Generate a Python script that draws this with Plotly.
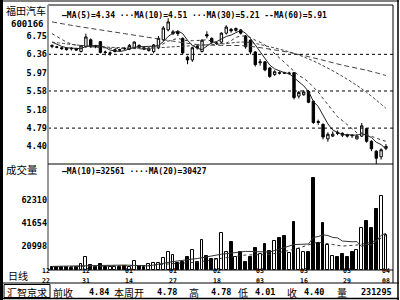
import plotly.graph_objects as go

W, H = 400, 300

# ---------------- data ----------------
opens = [6.55, 6.52, 6.50, 6.49, 6.49, 6.48, 6.42, 6.52, 6.67, 6.53,
         6.63, 6.41, 6.38, 6.42, 6.46, 6.49, 6.47, 6.50, 6.55, 6.50,
         6.44, 6.42, 6.50, 6.67, 6.88, 6.80, 6.84, 6.70, 6.30, 6.24,
         6.53, 6.42, 6.78, 6.70, 6.59, 6.62, 6.81, 6.89, 6.87, 6.88,
         6.75, 6.66, 6.41, 6.18, 6.20, 6.07, 5.93, 5.97, 5.97, 5.95,
         5.97, 5.47, 5.50, 5.57, 5.36, 4.93, 4.87, 4.56, 4.62, 4.70,
         4.68, 4.65, 4.64, 4.56, 4.62, 4.78, 4.51, 4.30, 4.18, 4.36]
closes = [6.53, 6.51, 6.48, 6.46, 6.48, 6.45, 6.54, 6.73, 6.52, 6.52,
          6.40, 6.40, 6.39, 6.46, 6.45, 6.48, 6.55, 6.62, 6.51, 6.47,
          6.49, 6.56, 6.70, 6.92, 7.05, 6.84, 6.80, 6.39, 6.24, 6.50,
          6.50, 6.66, 6.75, 6.62, 6.60, 6.81, 6.94, 6.86, 6.91, 6.81,
          6.52, 6.41, 6.14, 6.20, 6.03, 5.89, 5.99, 5.96, 5.96, 5.96,
          5.44, 5.55, 5.56, 5.34, 4.91, 4.91, 4.60, 4.66, 4.66, 4.68,
          4.64, 4.62, 4.63, 4.62, 4.84, 4.51, 4.35, 4.15, 4.33, 4.40]
highs = [6.57, 6.54, 6.52, 6.51, 6.51, 6.50, 6.56, 6.80, 6.70, 6.56,
         6.64, 6.44, 6.42, 6.48, 6.48, 6.51, 6.58, 6.64, 6.57, 6.52,
         6.51, 6.58, 6.75, 6.96, 7.13, 6.88, 6.87, 6.72, 6.33, 6.52,
         6.56, 6.68, 6.85, 6.72, 6.63, 6.83, 6.98, 6.92, 6.93, 6.90,
         6.77, 6.68, 6.43, 6.26, 6.22, 6.09, 6.02, 6.00, 5.99, 5.99,
         5.98, 5.58, 5.60, 5.60, 5.38, 4.97, 4.89, 4.70, 4.72, 4.74,
         4.70, 4.67, 4.66, 4.66, 4.90, 4.78, 4.53, 4.32, 4.36, 4.45]
lows = [6.49, 6.49, 6.46, 6.44, 6.44, 6.43, 6.40, 6.50, 6.50, 6.49,
        6.38, 6.34, 6.33, 6.40, 6.42, 6.45, 6.45, 6.48, 6.49, 6.45,
        6.42, 6.38, 6.47, 6.64, 6.85, 6.77, 6.75, 6.36, 6.15, 6.20,
        6.46, 6.40, 6.70, 6.58, 6.56, 6.60, 6.78, 6.82, 6.84, 6.78,
        6.48, 6.36, 6.10, 6.12, 6.00, 5.86, 5.90, 5.93, 5.94, 5.92,
        5.40, 5.42, 5.48, 5.32, 4.88, 4.86, 4.55, 4.50, 4.60, 4.64,
        4.60, 4.59, 4.58, 4.55, 4.60, 4.48, 4.30, 4.01, 4.12, 4.32]
volumes = [2500, 2300, 2000, 2300, 1800, 2000, 5000, 11500, 4000, 2500,
           5000, 2300, 2000, 2000, 2000, 3500, 2500, 7600, 2800, 2500,
           5000, 6000, 5500, 10400, 15700, 13000, 5800, 6700, 11200, 17500,
           6700, 26500, 12100, 9000, 9000, 32500, 15700, 24500, 11500, 15700,
           6500, 11000, 19700, 13500, 22500, 16600, 25600, 28000, 30000, 14500,
           42500, 18000, 15700, 15700, 82000, 23500, 41500, 22000, 12100, 11200,
           13900, 11200, 15700, 17500, 37000, 44000, 37000, 54000, 65600, 31400]

ma5 = [6.62, 6.57, 6.53, 6.50, 6.49, 6.48, 6.48, 6.53, 6.54, 6.55,
       6.54, 6.51, 6.45, 6.43, 6.42, 6.44, 6.47, 6.51, 6.52, 6.53,
       6.53, 6.53, 6.55, 6.63, 6.74, 6.81, 6.86, 6.80, 6.66, 6.55,
       6.49, 6.46, 6.53, 6.61, 6.63, 6.69, 6.74, 6.77, 6.82, 6.87,
       6.81, 6.70, 6.56, 6.42, 6.26, 6.13, 6.05, 6.01, 5.97, 5.95,
       5.86, 5.77, 5.69, 5.57, 5.36, 5.25, 5.06, 4.88, 4.75, 4.70,
       4.65, 4.65, 4.65, 4.64, 4.67, 4.64, 4.59, 4.49, 4.44, 4.34]
ma10 = [6.80, 6.74, 6.68, 6.62, 6.58, 6.55, 6.53, 6.53, 6.52, 6.52,
        6.51, 6.50, 6.49, 6.49, 6.49, 6.49, 6.49, 6.48, 6.48, 6.47,
        6.48, 6.50, 6.53, 6.58, 6.64, 6.67, 6.70, 6.67, 6.65, 6.65,
        6.65, 6.66, 6.67, 6.64, 6.59, 6.59, 6.60, 6.65, 6.72, 6.75,
        6.75, 6.72, 6.66, 6.62, 6.56, 6.47, 6.38, 6.29, 6.19, 6.11,
        6.00, 5.91, 5.85, 5.77, 5.66, 5.56, 5.42, 5.29, 5.16, 5.03,
        4.95, 4.86, 4.77, 4.69, 4.69, 4.65, 4.62, 4.57, 4.54, 4.51]
ma30_idx = [0, 5, 10, 15, 20, 25, 30, 35, 40, 45, 50, 55, 61, 65, 69]
ma30_val = [6.62, 6.56, 6.52, 6.50, 6.49, 6.52, 6.55, 6.58, 6.62, 6.52,
            6.38, 6.17, 5.83, 5.55, 5.21]
ma60_idx = [0, 5, 10, 15, 20, 25, 30, 35, 40, 45, 50, 55, 60, 65, 69]
ma60_val = [7.05, 6.96, 6.88, 6.80, 6.72, 6.64, 6.57, 6.55, 6.54, 6.47,
            6.38, 6.26, 6.13, 6.02, 5.91]
vma10_idx = [0, 5, 10, 15, 20, 25, 30, 35, 40, 45, 50, 53, 54, 55, 56, 57,
             58, 59, 60, 61, 62, 63, 64, 65, 66, 67, 68, 69]
vma10_val = [2800, 3000, 3840, 3980, 3220, 7100, 9850, 13700, 16300, 15720,
             22390, 22910, 28860, 29550, 31140, 30540, 28750, 28420, 25560,
             24880, 24880, 25060, 20560, 22610, 22160, 25360, 30710, 32561]
vma20_idx = [0, 10, 20, 25, 30, 35, 40, 45, 50, 54, 55, 58, 60, 63, 65, 67, 69]
vma20_val = [2500, 3200, 3600, 5300, 6500, 10000, 13000, 13500, 18000, 23500,
             24500, 22500, 21000, 22000, 23500, 26000, 30427]

price_ticks = [6.75, 6.36, 5.97, 5.58, 5.18, 4.79, 4.40]
price_grid = [6.36, 5.58, 4.79]
vol_ticks = [62310, 41654, 20998]
date_idx = [0, 7, 16, 25, 34, 43, 52, 61, 69]
date_month = ["12", "12", "01", "01", "02", "03", "03", "03", "04"]
date_day = ["22", "31", "14", "27", "18", "03", "16", "29", "08"]

legend_price = "—MA(5)=4.34 ···MA(10)=4.51 ···MA(30)=5.21 --MA(60)=5.91"
legend_vol = "—MA(10)=32561 ····MA(20)=30427"
info_labels = ["前收", "本周开", "高", "低", "收", "量"]
info_values = ["4.84", "4.78", "4.78", "4.01", "4.40", "231295"]

# ---------------- helpers ----------------
def px(x):
    return x / W

def py(y):
    return 1 - y / H

MONO = "DejaVu Sans Mono"
CJK = "Noto Sans CJK SC"
n = len(closes)
idx = list(range(n))

fig = go.Figure()

# price candles
fig.add_trace(go.Candlestick(
    x=idx, open=opens, high=highs, low=lows, close=closes,
    increasing=dict(line=dict(color="black", width=1), fillcolor="white"),
    decreasing=dict(line=dict(color="black", width=1), fillcolor="black"),
    whiskerwidth=0, xaxis="x", yaxis="y", showlegend=False, hoverinfo="skip"))

fig.add_trace(go.Scatter(x=idx, y=ma5, mode="lines",
                         line=dict(color="#222", width=1), xaxis="x", yaxis="y"))
fig.add_trace(go.Scatter(x=idx, y=ma10, mode="lines",
                         line=dict(color="#333", width=1, dash="dot"), xaxis="x", yaxis="y"))
fig.add_trace(go.Scatter(x=ma30_idx, y=ma30_val, mode="lines", line_shape="spline",
                         line=dict(color="#444", width=1, dash="3px,2px"), xaxis="x", yaxis="y"))
fig.add_trace(go.Scatter(x=ma60_idx, y=ma60_val, mode="lines", line_shape="spline",
                         line=dict(color="#444", width=1, dash="5px,3px"), xaxis="x", yaxis="y"))

# volume bars
vcol = ["white" if c >= o else "black" for o, c in zip(opens, closes)]
fig.add_trace(go.Bar(x=idx, y=volumes, width=0.6,
                     marker=dict(color=vcol, line=dict(color="black", width=1)),
                     xaxis="x2", yaxis="y2", hoverinfo="skip"))
fig.add_trace(go.Scatter(x=vma10_idx, y=vma10_val, mode="lines",
                         line=dict(color="#333", width=1), xaxis="x2", yaxis="y2"))
fig.add_trace(go.Scatter(x=vma20_idx, y=vma20_val, mode="lines",
                         line=dict(color="#333", width=1, dash="dot"), xaxis="x2", yaxis="y2"))

x_left, x_right = 48, 393
y_top, y_sep, y_vbot, y_info = 5, 164, 270, 283
pitch = 4.84
r0 = -(52 - x_left) / pitch
r1 = r0 + (x_right - x_left) / pitch

p_per = 47.0
p_top = 6.75 + (36 - y_top) / p_per
p_bot = 6.75 - (y_sep - 36) / p_per
v_per = 898.0
v_zero = 269.5
v_top = (v_zero - y_sep) * v_per
v_bot = (v_zero - y_vbot) * v_per

tickfont = dict(family=MONO, size=8.5, color="black", weight="bold")
fig.update_layout(
    width=W, height=H, margin=dict(l=0, r=0, t=0, b=0),
    paper_bgcolor="white", plot_bgcolor="white", showlegend=False,
    xaxis=dict(domain=[px(x_left), px(x_right)], range=[r0, r1], visible=False,
               rangeslider=dict(visible=False), anchor="y"),
    xaxis2=dict(domain=[px(x_left), px(x_right)], range=[r0, r1], visible=False, anchor="y2"),
    yaxis=dict(domain=[py(y_sep), py(y_top)], range=[p_bot, p_top], anchor="x",
               tickvals=price_ticks, ticktext=["%.2f" % v for v in price_ticks],
               tickfont=tickfont, showgrid=False, zeroline=False, showline=False, ticks=""),
    yaxis2=dict(domain=[py(y_vbot), py(y_sep)], range=[v_bot, v_top], anchor="x2",
                tickvals=vol_ticks, ticktext=[str(v) for v in vol_ticks],
                tickfont=tickfont, showgrid=False, zeroline=False, showline=False, ticks=""),
    bargap=0,
)

shapes = []
def hline(y, x0, x1, color="black", width=1, dash=None):
    d = dict(type="line", xref="paper", yref="paper", x0=px(x0), x1=px(x1),
             y0=py(y), y1=py(y), line=dict(color=color, width=width))
    if dash:
        d["line"]["dash"] = dash
    shapes.append(d)

def vline(x, y0, y1, color="black", width=1):
    shapes.append(dict(type="line", xref="paper", yref="paper", x0=px(x), x1=px(x),
                       y0=py(y0), y1=py(y1), line=dict(color=color, width=width)))

for g in price_grid:
    shapes.append(dict(type="line", xref="paper", yref="y", x0=px(x_left), x1=px(x_right),
                       y0=g, y1=g, line=dict(color="black", width=1, dash="dot")))

# frames
shapes.append(dict(type="rect", xref="paper", yref="paper", x0=px(0), x1=px(3),
                   y0=py(300), y1=py(0), fillcolor="black", line=dict(width=0)))
hline(1, 0, 399)
hline(298.5, 0, 399, width=1.5)
vline(398, 0, 300, width=1.5)
vline(x_right, y_top, y_info)
hline(y_top, x_left, x_right)
vline(x_left, y_top, y_vbot, color="#999", width=2)
hline(y_sep, x_left, x_right)
hline(y_vbot, x_left, x_right)
hline(y_info, 0, 399)
shapes.append(dict(type="rect", xref="paper", yref="paper", x0=px(4), x1=px(50),
                   y0=py(297.5), y1=py(284.5), line=dict(color="black", width=1)))
fig.update_layout(shapes=shapes)

ann = []
def text(x, y, s, size=9, family=MONO, anchor="left", bold=True, yanchor="middle", pad=1):
    ann.append(dict(xref="paper", yref="paper", x=px(x), y=py(y), text=s,
                    showarrow=False, xanchor=anchor, yanchor=yanchor, borderpad=pad,
                    font=dict(family=family, size=size, color="black",
                              weight="bold" if bold else "normal")))

text(4, 10.5, "福田汽车", size=10, family=CJK, bold=False)
text(46, 23.5, "600166", size=9, anchor="right")
text(4, 169, "成交量", size=10.5, family=CJK, bold=False)
text(6, 275.5, "日线", size=10, family=CJK, bold=False)

# legends
text(60, 15, legend_price, size=8)
text(60, 171.5, legend_vol, size=8)

# date labels (two-line tick labels)
for k, (i, m, d) in enumerate(zip(date_idx, date_month, date_day)):
    xx = x_left + (i - r0) * pitch
    anc = "right" if k == 0 else "center"
    if k == 0:
        xx -= 1
    text(xx, 276.0, m, size=6.5, anchor=anc, yanchor="bottom", pad=0)
    text(xx, 275.6, d, size=6.5, anchor=anc, yanchor="top", pad=0)

# info bar
text(27, 292.0, "汇智京求", size=10, family=CJK, anchor="center", bold=False, pad=0)
lab_x = [52, 113, 188, 237, 286, 336]
val_x = [110, 178, 232, 276, 325, 393]
for s, xx in zip(info_labels, lab_x):
    text(xx, 292.0, s, size=10, family=CJK, bold=False, pad=0)
for s, xx in zip(info_values, val_x):
    text(xx, 292.0, s, size=8.5, anchor="right", pad=0)

fig.update_layout(annotations=ann)
fig.write_html("out.html")
